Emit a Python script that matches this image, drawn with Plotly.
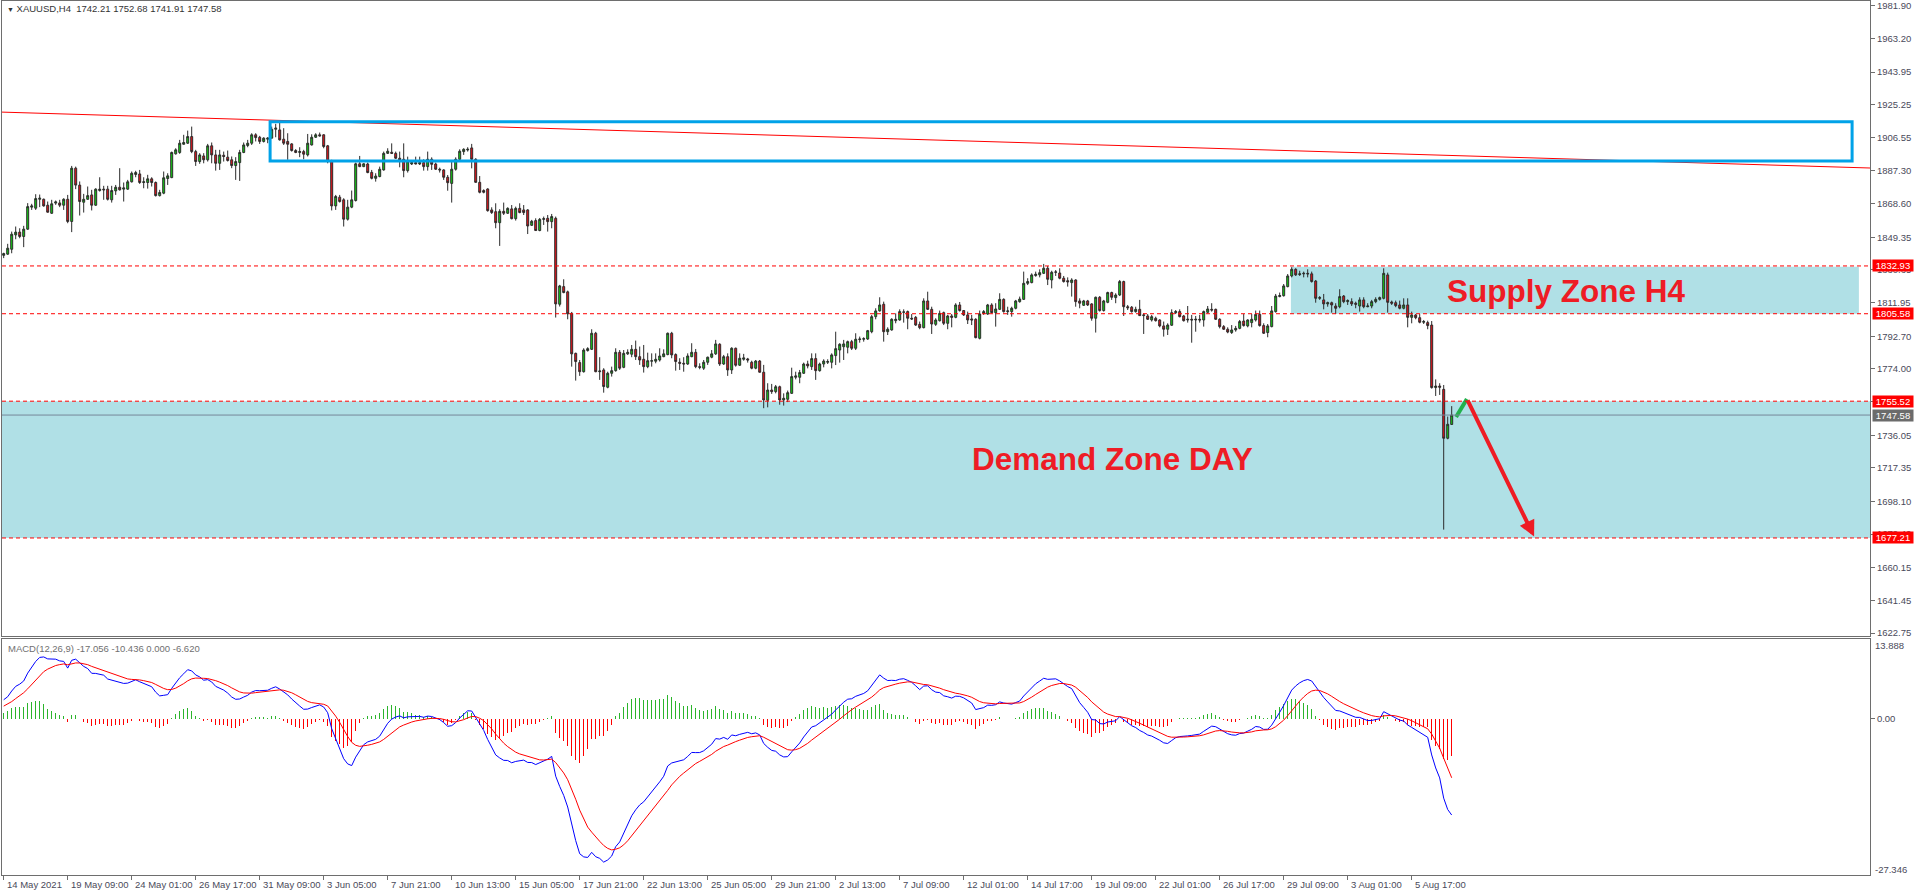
import plotly.graph_objects as go

# ---------------- data ----------------
date_labels = ["14 May 2021", "19 May 09:00", "24 May 01:00", "26 May 17:00", "31 May 09:00",
               "3 Jun 05:00", "7 Jun 21:00", "10 Jun 13:00", "15 Jun 05:00", "17 Jun 21:00",
               "22 Jun 13:00", "25 Jun 05:00", "29 Jun 21:00", "2 Jul 13:00", "7 Jul 09:00",
               "12 Jul 01:00", "14 Jul 17:00", "19 Jul 09:00", "22 Jul 01:00", "26 Jul 17:00",
               "29 Jul 09:00", "3 Aug 01:00", "5 Aug 17:00"]
label_step = 16

open_ = [
    1839.0, 1839.7, 1842.5, 1850.7, 1852.3, 1849.8, 1854.0, 1866.6, 1866.0, 1871.1,
    1871.1, 1867.7, 1863.1, 1868.9, 1869.0, 1867.7, 1871.1, 1858.4, 1888.9, 1879.2,
    1869.4, 1871.1, 1873.6, 1867.7, 1876.1, 1876.9, 1876.9, 1870.8, 1875.9, 1878.0,
    1876.9, 1876.9, 1881.1, 1885.3, 1885.6, 1880.7, 1880.7, 1882.8, 1880.7, 1873.2,
    1874.6, 1883.0, 1883.5, 1897.1, 1897.9, 1902.6, 1903.2, 1907.0, 1898.4, 1892.7,
    1895.9, 1893.7, 1901.7, 1896.5, 1891.7, 1896.3, 1895.2, 1893.7, 1890.4, 1892.1,
    1897.9, 1901.9, 1903.2, 1908.0, 1906.6, 1904.2, 1905.5, 1906.1, 1911.2, 1910.8,
    1905.5, 1904.2, 1902.8, 1899.0, 1897.9, 1898.4, 1896.5, 1902.2, 1906.6, 1908.0,
    1908.0, 1901.7, 1893.1, 1867.3, 1872.3, 1870.8, 1859.7, 1866.6, 1870.4, 1891.4,
    1889.8, 1891.3, 1886.5, 1883.1, 1884.1, 1887.9, 1897.4, 1898.0, 1897.4, 1894.6,
    1894.0, 1887.5, 1891.3, 1892.1, 1891.3, 1892.1, 1889.8, 1894.0, 1891.3, 1888.3,
    1887.9, 1883.7, 1880.2, 1888.3, 1894.0, 1898.4, 1899.3, 1900.5, 1894.0, 1880.8,
    1876.1, 1877.0, 1865.0, 1864.0, 1857.7, 1864.2, 1863.1, 1865.6, 1860.0, 1865.9,
    1865.0, 1865.0, 1856.2, 1858.9, 1853.2, 1859.6, 1860.2, 1858.3, 1860.2, 1811.0,
    1821.1, 1818.1, 1805.8, 1782.9, 1777.6, 1772.4, 1784.5, 1785.2, 1794.4, 1772.4,
    1773.4, 1763.5, 1771.5, 1773.0, 1783.5, 1774.9, 1782.6, 1782.4, 1785.2, 1781.0,
    1779.5, 1775.3, 1778.4, 1778.4, 1779.1, 1781.0, 1782.2, 1794.4, 1782.2, 1777.8,
    1777.2, 1776.8, 1781.0, 1783.5, 1775.3, 1774.4, 1777.8, 1780.7, 1782.6, 1788.1,
    1776.8, 1781.0, 1773.4, 1785.8, 1776.1, 1779.5, 1779.7, 1777.8, 1774.4, 1778.5,
    1772.1, 1756.0, 1761.9, 1761.0, 1763.8, 1756.2, 1756.6, 1760.0, 1769.2, 1769.2,
    1771.5, 1776.8, 1775.3, 1779.9, 1773.0, 1776.8, 1777.8, 1777.8, 1781.6, 1784.8,
    1786.7, 1786.4, 1789.6, 1785.8, 1790.8, 1791.0, 1791.1, 1795.3, 1803.9, 1807.2,
    1811.0, 1795.3, 1796.3, 1801.6, 1802.0, 1806.4, 1806.8, 1803.0, 1803.5, 1799.5,
    1797.6, 1812.9, 1808.1, 1799.5, 1801.6, 1806.2, 1800.1, 1804.3, 1803.5, 1810.6,
    1807.4, 1804.9, 1802.6, 1802.4, 1791.5, 1805.8, 1805.4, 1810.6, 1806.2, 1808.1,
    1813.8, 1806.8, 1806.8, 1808.7, 1812.5, 1813.8, 1823.0, 1823.4, 1827.4, 1827.8,
    1828.7, 1831.6, 1824.9, 1829.3, 1828.9, 1825.9, 1824.5, 1823.4, 1824.9, 1812.9,
    1810.4, 1812.9, 1811.2, 1803.0, 1815.0, 1807.4, 1812.1, 1817.7, 1814.8, 1816.3,
    1824.0, 1809.6, 1809.3, 1806.8, 1808.1, 1804.5, 1804.3, 1802.0, 1803.0, 1802.0,
    1798.6, 1796.7, 1799.0, 1806.2, 1806.8, 1804.3, 1802.0, 1802.4, 1802.0, 1802.4,
    1802.0, 1806.4, 1808.1, 1808.1, 1802.4, 1798.2, 1796.7, 1794.8, 1796.3, 1797.2,
    1801.4, 1798.6, 1800.5, 1802.0, 1805.2, 1798.8, 1794.8, 1798.2, 1806.8, 1815.4,
    1815.9, 1821.1, 1827.2, 1831.0, 1828.0, 1828.4, 1828.7, 1828.4, 1824.3, 1814.4,
    1813.5, 1811.2, 1811.9, 1810.0, 1809.6, 1815.7, 1812.5, 1812.5, 1811.6, 1810.0,
    1813.5, 1809.6, 1810.0, 1812.5, 1813.8, 1814.4, 1827.8, 1812.3, 1811.9, 1810.6,
    1808.7, 1810.6, 1803.5, 1804.9, 1803.3, 1800.7, 1800.5, 1799.1, 1763.3, 1764.2,
    1762.3, 1734.3, 1742.21]

high_ = [
    1840.5, 1845.6, 1852.6, 1855.5, 1854.5, 1855.9, 1868.9, 1868.5, 1874.0, 1873.8,
    1871.5, 1869.8, 1870.8, 1870.4, 1870.8, 1871.7, 1873.6, 1890.2, 1889.8, 1881.3,
    1874.2, 1878.4, 1876.5, 1877.4, 1883.7, 1878.8, 1878.8, 1878.8, 1879.3, 1888.9,
    1880.7, 1882.2, 1887.0, 1887.4, 1887.9, 1883.7, 1885.1, 1883.7, 1881.3, 1876.5,
    1887.0, 1886.0, 1898.4, 1900.3, 1905.1, 1908.0, 1910.4, 1912.7, 1899.4, 1897.5,
    1897.5, 1902.8, 1903.6, 1899.4, 1899.4, 1898.4, 1899.0, 1895.6, 1895.2, 1899.4,
    1903.6, 1905.1, 1908.9, 1908.9, 1907.4, 1906.6, 1906.6, 1912.7, 1914.3, 1915.0,
    1911.8, 1908.9, 1903.2, 1899.8, 1900.9, 1899.4, 1908.5, 1908.3, 1908.9, 1909.3,
    1908.3, 1902.2, 1893.7, 1873.6, 1873.6, 1871.7, 1870.8, 1876.1, 1892.1, 1895.9,
    1891.7, 1892.1, 1887.9, 1886.0, 1889.8, 1898.4, 1900.3, 1903.1, 1898.4, 1898.4,
    1903.1, 1895.5, 1893.6, 1895.5, 1895.5, 1894.0, 1898.4, 1895.1, 1892.1, 1889.2,
    1888.3, 1885.0, 1892.6, 1895.1, 1899.7, 1900.3, 1900.9, 1902.8, 1894.6, 1884.4,
    1876.8, 1877.4, 1866.5, 1868.8, 1865.4, 1869.2, 1866.5, 1867.8, 1866.9, 1868.8,
    1867.8, 1865.4, 1859.3, 1860.2, 1860.4, 1861.2, 1862.1, 1862.7, 1861.2, 1822.1,
    1825.3, 1818.8, 1806.6, 1783.3, 1779.1, 1785.8, 1786.4, 1796.7, 1795.2, 1780.7,
    1774.4, 1772.4, 1775.3, 1785.8, 1784.8, 1784.8, 1785.2, 1787.7, 1790.2, 1786.8,
    1787.7, 1783.3, 1782.9, 1782.9, 1785.8, 1785.2, 1794.8, 1795.2, 1782.9, 1780.1,
    1780.7, 1782.9, 1788.7, 1785.4, 1777.2, 1779.1, 1781.0, 1784.8, 1790.6, 1788.7,
    1782.0, 1782.9, 1786.4, 1786.2, 1782.9, 1782.6, 1780.3, 1778.7, 1779.1, 1779.1,
    1776.3, 1765.8, 1765.4, 1764.8, 1764.4, 1760.0, 1761.6, 1774.7, 1772.4, 1773.4,
    1777.6, 1778.7, 1782.9, 1782.9, 1777.6, 1779.5, 1779.5, 1782.9, 1795.3, 1788.7,
    1790.6, 1790.2, 1790.6, 1794.4, 1792.5, 1792.1, 1796.3, 1804.9, 1808.7, 1815.0,
    1812.5, 1797.8, 1803.0, 1805.8, 1808.1, 1808.1, 1807.4, 1805.4, 1804.3, 1801.1,
    1814.4, 1818.2, 1809.6, 1803.0, 1807.4, 1806.8, 1804.9, 1805.4, 1811.6, 1812.3,
    1807.7, 1806.8, 1804.9, 1803.0, 1807.4, 1807.7, 1811.2, 1811.6, 1811.6, 1817.3,
    1814.4, 1809.6, 1809.6, 1813.5, 1815.4, 1829.7, 1825.9, 1828.7, 1829.7, 1831.0,
    1834.1, 1832.9, 1830.2, 1830.6, 1831.6, 1827.2, 1826.4, 1825.9, 1825.3, 1814.4,
    1813.5, 1813.5, 1811.6, 1815.4, 1815.7, 1813.5, 1818.2, 1818.2, 1817.3, 1824.9,
    1824.5, 1810.6, 1810.0, 1809.6, 1813.5, 1805.8, 1805.4, 1804.9, 1803.9, 1802.4,
    1801.1, 1800.1, 1808.1, 1807.7, 1808.1, 1804.9, 1810.0, 1804.9, 1804.3, 1804.9,
    1807.4, 1810.0, 1811.6, 1808.5, 1803.0, 1799.1, 1797.8, 1799.1, 1798.6, 1802.0,
    1805.4, 1802.4, 1805.4, 1807.4, 1807.4, 1800.1, 1799.7, 1810.0, 1816.9, 1817.7,
    1822.6, 1828.3, 1832.2, 1831.6, 1830.2, 1829.7, 1831.0, 1829.7, 1824.9, 1815.7,
    1816.9, 1812.5, 1812.5, 1811.6, 1819.6, 1816.3, 1813.8, 1814.4, 1812.5, 1815.0,
    1815.0, 1811.6, 1813.5, 1815.0, 1815.4, 1831.6, 1829.1, 1813.1, 1813.1, 1813.1,
    1814.4, 1814.4, 1806.8, 1805.4, 1805.4, 1802.0, 1801.6, 1801.4, 1768.0, 1765.8,
    1764.8, 1746.7, 1752.68]

low_ = [
    1837.4, 1839.3, 1840.2, 1848.2, 1848.8, 1843.7, 1853.6, 1865.0, 1865.0, 1866.6,
    1866.9, 1863.5, 1862.7, 1867.9, 1866.6, 1865.0, 1857.4, 1852.3, 1876.9, 1861.8,
    1863.5, 1870.8, 1864.7, 1867.3, 1875.5, 1870.8, 1870.4, 1869.2, 1873.6, 1876.1,
    1869.8, 1876.5, 1880.7, 1883.7, 1879.9, 1877.4, 1877.2, 1878.4, 1872.7, 1872.7,
    1874.0, 1879.3, 1883.2, 1896.7, 1897.1, 1902.4, 1902.8, 1897.5, 1890.2, 1891.4,
    1891.7, 1892.7, 1891.7, 1887.5, 1887.9, 1892.7, 1892.7, 1888.9, 1882.2, 1881.6,
    1897.5, 1900.9, 1902.2, 1904.2, 1902.8, 1903.6, 1903.2, 1905.9, 1906.6, 1904.7,
    1902.2, 1893.7, 1898.4, 1897.5, 1895.2, 1894.0, 1895.6, 1901.9, 1906.2, 1907.0,
    1900.3, 1891.7, 1864.7, 1865.0, 1869.2, 1855.5, 1858.9, 1866.0, 1869.8, 1889.5,
    1889.5, 1886.0, 1882.5, 1881.2, 1883.7, 1887.5, 1897.0, 1897.0, 1894.2, 1889.4,
    1883.7, 1886.4, 1890.7, 1891.1, 1890.7, 1887.5, 1887.5, 1887.9, 1887.9, 1886.4,
    1882.2, 1876.0, 1869.2, 1887.5, 1893.6, 1896.5, 1898.4, 1888.8, 1880.6, 1874.5,
    1874.5, 1864.0, 1862.7, 1854.5, 1844.4, 1862.1, 1862.7, 1859.6, 1858.9, 1863.1,
    1862.1, 1851.2, 1855.8, 1853.0, 1852.8, 1856.4, 1852.6, 1854.5, 1803.4, 1809.7,
    1817.3, 1802.4, 1775.3, 1767.3, 1770.0, 1771.9, 1783.9, 1784.8, 1772.1, 1767.7,
    1760.4, 1762.9, 1769.6, 1772.4, 1773.4, 1774.4, 1782.0, 1780.7, 1779.1, 1776.3,
    1771.9, 1774.4, 1775.3, 1777.2, 1778.2, 1780.7, 1781.8, 1780.1, 1773.0, 1773.4,
    1772.4, 1776.3, 1780.7, 1774.4, 1773.8, 1773.4, 1776.3, 1780.1, 1782.0, 1775.7,
    1776.3, 1770.0, 1771.1, 1775.3, 1775.7, 1778.7, 1777.6, 1773.8, 1773.8, 1771.9,
    1751.5, 1752.0, 1759.7, 1760.0, 1753.5, 1753.0, 1755.0, 1759.7, 1768.0, 1765.8,
    1771.1, 1774.3, 1773.4, 1767.7, 1772.4, 1774.9, 1776.8, 1774.3, 1776.2, 1777.6,
    1779.1, 1782.9, 1784.8, 1784.8, 1789.0, 1789.6, 1790.6, 1794.4, 1802.4, 1806.8,
    1789.6, 1793.4, 1795.9, 1800.1, 1801.6, 1800.5, 1796.7, 1802.0, 1798.6, 1796.7,
    1797.2, 1807.7, 1794.0, 1798.6, 1801.1, 1799.1, 1796.7, 1797.8, 1803.0, 1806.8,
    1804.3, 1799.7, 1799.1, 1791.5, 1790.9, 1804.9, 1804.9, 1805.8, 1798.2, 1807.7,
    1806.2, 1804.9, 1803.9, 1808.1, 1811.9, 1813.5, 1822.0, 1823.0, 1826.8, 1826.4,
    1828.3, 1822.0, 1820.1, 1827.2, 1825.3, 1823.4, 1821.1, 1815.4, 1809.6, 1808.7,
    1810.0, 1810.0, 1801.6, 1794.8, 1806.8, 1806.8, 1811.6, 1813.5, 1811.6, 1815.7,
    1804.3, 1807.7, 1806.2, 1806.2, 1804.3, 1794.0, 1802.0, 1801.1, 1801.1, 1797.8,
    1792.5, 1793.4, 1798.6, 1805.4, 1803.5, 1801.1, 1800.5, 1789.0, 1795.3, 1800.5,
    1798.2, 1805.8, 1806.8, 1802.0, 1797.2, 1796.3, 1794.4, 1794.0, 1795.3, 1796.7,
    1798.2, 1797.8, 1797.8, 1801.1, 1798.2, 1794.0, 1792.1, 1797.8, 1806.2, 1815.0,
    1815.4, 1820.7, 1826.4, 1827.2, 1827.2, 1826.4, 1826.4, 1823.4, 1811.9, 1813.5,
    1808.1, 1809.6, 1806.2, 1805.4, 1808.7, 1811.6, 1810.6, 1810.0, 1808.7, 1806.8,
    1808.7, 1809.3, 1808.7, 1811.6, 1813.1, 1813.8, 1806.2, 1810.6, 1809.3, 1808.1,
    1808.1, 1797.8, 1800.1, 1802.4, 1800.1, 1799.7, 1796.7, 1762.7, 1758.5, 1759.1,
    1682.0, 1733.7, 1741.91]

close_ = [
    1840.0, 1843.1, 1851.1, 1852.3, 1849.8, 1854.0, 1866.9, 1867.3, 1871.5, 1871.7,
    1867.3, 1863.7, 1868.5, 1869.6, 1867.7, 1871.1, 1858.4, 1888.9, 1879.2, 1869.8,
    1871.1, 1873.2, 1867.7, 1876.9, 1876.9, 1876.5, 1871.1, 1876.1, 1878.0, 1876.5,
    1877.6, 1881.1, 1886.0, 1886.4, 1880.7, 1881.1, 1882.8, 1880.7, 1873.2, 1875.0,
    1883.4, 1884.5, 1897.9, 1899.4, 1903.2, 1903.6, 1907.0, 1898.4, 1892.7, 1896.5,
    1893.7, 1901.7, 1896.5, 1891.7, 1896.5, 1895.6, 1893.3, 1890.4, 1892.7, 1897.9,
    1902.2, 1903.2, 1908.0, 1906.4, 1904.2, 1906.1, 1906.1, 1911.2, 1911.8, 1905.1,
    1903.2, 1902.6, 1899.0, 1897.9, 1898.4, 1896.9, 1903.2, 1906.6, 1908.0, 1907.4,
    1901.3, 1892.7, 1867.3, 1872.7, 1869.8, 1859.7, 1866.6, 1870.8, 1891.4, 1889.8,
    1891.4, 1886.4, 1883.1, 1884.4, 1888.3, 1897.4, 1898.6, 1897.4, 1894.6, 1893.6,
    1887.5, 1893.0, 1892.1, 1891.3, 1892.1, 1889.8, 1894.0, 1891.1, 1888.3, 1887.9,
    1883.7, 1880.6, 1888.3, 1894.0, 1898.6, 1899.7, 1899.7, 1894.0, 1880.8, 1875.1,
    1875.1, 1864.6, 1863.5, 1857.7, 1864.2, 1863.1, 1865.9, 1860.0, 1865.9, 1863.5,
    1863.5, 1855.8, 1858.5, 1853.2, 1859.6, 1860.0, 1858.3, 1861.2, 1811.2, 1821.5,
    1817.7, 1805.5, 1782.6, 1778.2, 1772.4, 1784.8, 1785.6, 1794.4, 1772.4, 1772.8,
    1763.9, 1771.5, 1773.0, 1783.5, 1774.4, 1782.9, 1783.5, 1785.2, 1781.0, 1779.1,
    1775.3, 1778.7, 1778.7, 1779.5, 1781.4, 1782.6, 1794.4, 1782.0, 1778.2, 1777.2,
    1776.8, 1781.4, 1783.5, 1775.3, 1774.9, 1777.8, 1780.7, 1782.6, 1788.3, 1776.8,
    1781.0, 1773.4, 1785.8, 1776.1, 1780.1, 1780.3, 1779.1, 1774.4, 1778.5, 1772.1,
    1756.2, 1761.9, 1761.0, 1763.8, 1756.2, 1757.2, 1760.4, 1769.6, 1770.0, 1771.9,
    1776.8, 1775.7, 1779.9, 1773.0, 1776.8, 1778.5, 1778.2, 1782.0, 1785.6, 1788.1,
    1788.3, 1789.6, 1785.8, 1791.0, 1791.1, 1791.3, 1795.9, 1803.9, 1807.2, 1810.6,
    1795.3, 1796.7, 1802.4, 1802.4, 1806.8, 1806.6, 1803.0, 1802.6, 1799.1, 1797.6,
    1812.9, 1808.1, 1799.7, 1802.0, 1805.8, 1800.1, 1804.3, 1803.5, 1810.6, 1807.4,
    1804.9, 1802.0, 1802.0, 1791.9, 1805.4, 1806.8, 1810.6, 1806.2, 1808.3, 1813.8,
    1806.8, 1807.2, 1808.7, 1812.9, 1814.0, 1823.0, 1824.0, 1827.8, 1828.2, 1829.1,
    1831.6, 1825.3, 1829.3, 1829.5, 1825.9, 1824.0, 1823.8, 1824.9, 1812.5, 1811.6,
    1812.9, 1810.6, 1803.0, 1815.0, 1807.4, 1812.9, 1817.7, 1815.0, 1816.3, 1824.0,
    1809.6, 1809.0, 1806.8, 1808.1, 1804.5, 1804.9, 1802.4, 1803.9, 1801.6, 1798.6,
    1796.7, 1799.1, 1806.2, 1806.8, 1803.9, 1801.6, 1802.4, 1802.0, 1802.4, 1802.0,
    1806.8, 1808.3, 1807.7, 1802.4, 1798.2, 1796.7, 1795.1, 1796.3, 1797.2, 1801.1,
    1798.8, 1802.0, 1802.4, 1805.2, 1798.8, 1794.4, 1798.6, 1807.2, 1815.7, 1816.0,
    1821.5, 1827.2, 1831.0, 1827.8, 1828.4, 1828.7, 1828.4, 1824.0, 1814.4, 1814.8,
    1811.2, 1811.9, 1810.6, 1808.7, 1815.4, 1812.5, 1813.1, 1811.2, 1811.0, 1813.5,
    1809.6, 1810.0, 1812.5, 1813.8, 1814.8, 1828.7, 1812.1, 1811.6, 1810.2, 1808.7,
    1810.6, 1803.5, 1804.9, 1803.3, 1800.7, 1801.1, 1798.8, 1763.3, 1764.2, 1763.5,
    1734.3, 1742.3, 1747.58]

# price-axis tick values (MT4 grid)
price_ticks = [1981.90, 1963.20, 1943.95, 1925.25, 1906.55, 1887.30, 1868.60, 1849.35,
               1830.65, 1811.95, 1792.70, 1774.00, 1755.30, 1736.05, 1717.35, 1698.10,
               1679.40, 1660.15, 1641.45, 1622.75]
level_prices = [1832.93, 1805.58, 1755.52, 1677.21]
bid_price = 1747.58
macd_max_label, macd_min_label = 13.888, -27.346

# drawn objects (in bar-index / price units)
trend_x = [-0.5, 466.6]
trend_price = [1921.0, 1889.0]
blue_box_x = [66.6, 462.1]
blue_box_price = [1893.0, 1915.5]
supply_zone_x = [321.8, 463.8]
supply_zone_price = [1805.58, 1832.5]
demand_zone_price = [1677.21, 1755.52]
green_leg_x = [363.1, 365.8]
green_leg_price = [1746.5, 1756.8]
red_leg_x = [365.8, 382.6]
red_leg_price = [1756.8, 1678.0]

# MACD seeds (state of the EMAs before the first visible bar)
EMA_FAST_SEED = 1832.0
EMA_SLOW_SEED = 1829.0
SIGNAL_SEED = 2.0

n = len(close_)
idx = list(range(n))


def ema(vals, period, seed):
    k = 2.0 / (period + 1)
    out, prev = [], seed
    for v in vals:
        prev = prev + k * (v - prev)
        out.append(prev)
    return out


ema_fast = ema(close_, 12, EMA_FAST_SEED)
ema_slow = ema(close_, 26, EMA_SLOW_SEED)
macd = [a - b for a, b in zip(ema_fast, ema_slow)]
signal = ema(macd, 9, SIGNAL_SEED)
hist = [m - s for m, s in zip(macd, signal)]

# ---------------- figure ----------------
W, H = 1916, 896
ML, MR, MT, MB = 2, 46, 1, 21
PH = H - MT - MB  # plot height in px


def py(pix):  # pixel y -> paper y
    return (H - MB - pix) / PH


GREEN = "#14D014"
RED = "#E8141B"
OUTL = "#2B2B2B"
AXC = "#6E6E6E"
TXT = "#4A4A5A"
FONT = "Liberation Sans"

fig = go.Figure()

fig.add_trace(go.Candlestick(
    x=idx, open=open_, high=high_, low=low_, close=close_,
    increasing=dict(line=dict(color=OUTL, width=1), fillcolor=GREEN),
    decreasing=dict(line=dict(color=OUTL, width=1), fillcolor=RED),
    whiskerwidth=0, xaxis="x", yaxis="y", hoverinfo="skip", showlegend=False))

# trend line
fig.add_trace(go.Scatter(x=trend_x, y=trend_price, mode="lines",
                         line=dict(color="#FF0000", width=1), xaxis="x", yaxis="y",
                         hoverinfo="skip", showlegend=False))
# green up-leg
fig.add_trace(go.Scatter(x=green_leg_x, y=green_leg_price, mode="lines",
                         line=dict(color="#22B14C", width=4), xaxis="x", yaxis="y",
                         hoverinfo="skip", showlegend=False))

# MACD histogram and lines
fig.add_trace(go.Bar(x=idx, y=hist, width=0.3,
                     marker=dict(color=["#2CB52C" if h >= 0 else "#FF0000" for h in hist],
                                 line=dict(width=0)),
                     xaxis="x2", yaxis="y2", hoverinfo="skip", showlegend=False))
fig.add_trace(go.Scatter(x=idx, y=macd, mode="lines", line=dict(color="#0000FF", width=1),
                         xaxis="x2", yaxis="y2", hoverinfo="skip", showlegend=False))
fig.add_trace(go.Scatter(x=idx, y=signal, mode="lines", line=dict(color="#FF0000", width=1),
                         xaxis="x2", yaxis="y2", hoverinfo="skip", showlegend=False))

shapes = []
# demand zone (full width)
shapes.append(dict(type="rect", xref="paper", yref="y", x0=0, x1=1,
                   y0=demand_zone_price[0], y1=demand_zone_price[1],
                   fillcolor="#B0E0E6", line=dict(width=0), layer="below"))
# supply zone
shapes.append(dict(type="rect", xref="x", yref="y", x0=supply_zone_x[0], x1=supply_zone_x[1],
                   y0=supply_zone_price[0], y1=supply_zone_price[1],
                   fillcolor="#B0E0E6", line=dict(width=0), layer="below"))
# blue outlined box
shapes.append(dict(type="rect", xref="x", yref="y", x0=blue_box_x[0], x1=blue_box_x[1],
                   y0=blue_box_price[0], y1=blue_box_price[1],
                   fillcolor="rgba(0,0,0,0)", line=dict(color="#00A2E8", width=3), layer="above"))
# dashed levels
for p in level_prices:
    shapes.append(dict(type="line", xref="paper", yref="y", x0=0, x1=1, y0=p, y1=p,
                       line=dict(color="#FF0000", width=1, dash="4px,3px"), layer="above"))
# bid line
shapes.append(dict(type="line", xref="paper", yref="y", x0=0, x1=1, y0=bid_price, y1=bid_price,
                   line=dict(color="#778899", width=1), layer="above"))

annotations = []
# red arrow
annotations.append(dict(x=red_leg_x[1], y=red_leg_price[1], ax=red_leg_x[0], ay=red_leg_price[0],
                        xref="x", yref="y", axref="x", ayref="y", text="", showarrow=True,
                        arrowhead=2, arrowsize=0.8, arrowwidth=4, arrowcolor="#EE1C24"))
# zone texts
annotations.append(dict(x=277.1, y=1722.4, xref="x", yref="y", text="Demand Zone DAY",
                        showarrow=False, font=dict(family=FONT, size=31.5, color="#EE1C25",
                                                   weight="bold")))
annotations.append(dict(x=390.8, y=1818.6, xref="x", yref="y", text="Supply Zone H4",
                        showarrow=False, font=dict(family=FONT, size=31.5, color="#EE1C25",
                                                   weight="bold")))
# header
annotations.append(dict(x=(5 - ML) / (W - ML - MR), y=py(9), xref="paper", yref="paper",
                        xanchor="left", yanchor="middle", showarrow=False,
                        text='<span style="font-size:7px">\u25BC</span> XAUUSD,H4\u00a0\u00a01742.21 1752.68 1741.91 1747.58',
                        font=dict(family=FONT, size=9.5, color="#333333")))
annotations.append(dict(x=(6 - ML) / (W - ML - MR), y=py(648), xref="paper", yref="paper",
                        xanchor="left", yanchor="middle", showarrow=False,
                        text="MACD(12,26,9) -17.056 -10.436 0.000 -6.620",
                        font=dict(family=FONT, size=9.5, color="#707070")))
# price labels on axis
xlab = 1 + 2 / (W - ML - MR)
for p in level_prices:
    annotations.append(dict(x=xlab, y=p, xref="paper", yref="y", xanchor="left",
                            yanchor="middle", showarrow=False, text=f"{p:.2f}",
                            bgcolor="#FF0000", width=40, height=11, borderpad=0,
                            font=dict(family=FONT, size=9.5, color="white")))
annotations.append(dict(x=xlab, y=bid_price, xref="paper", yref="y", xanchor="left",
                        yanchor="middle", showarrow=False, text=f"{bid_price:.2f}",
                        bgcolor="#6B6B6B", width=40, height=11, borderpad=0,
                        font=dict(family=FONT, size=9.5, color="white")))
# MACD extreme labels
annotations.append(dict(x=1 + 3 / (W - ML - MR), y=py(645), xref="paper", yref="paper",
                        xanchor="left", yanchor="middle", showarrow=False,
                        text=f"{macd_max_label:.3f}", font=dict(family=FONT, size=9.5, color=TXT)))
annotations.append(dict(x=1 + 3 / (W - ML - MR), y=py(869), xref="paper", yref="paper",
                        xanchor="left", yanchor="middle", showarrow=False,
                        text=f"{macd_min_label:.3f}", font=dict(family=FONT, size=9.5, color=TXT)))
# date labels (left-aligned at tick)
tick_idx = [i * label_step for i in range(len(date_labels))]
for ti, lab in zip(tick_idx, date_labels):
    annotations.append(dict(x=ti + 0.2, y=py(884), xref="x", yref="paper", xanchor="left",
                            yanchor="middle", showarrow=False, text=lab,
                            font=dict(family=FONT, size=9.5, color=TXT)))

x_range = [(ML - 3.7) / 4.0, (W - MR - 3.7) / 4.0]
main_bottom = py(636)
macd_top = py(639)

fig.update_layout(
    width=W, height=H, margin=dict(l=ML, r=MR, t=MT, b=MB, autoexpand=False),
    paper_bgcolor="white", plot_bgcolor="white", showlegend=False,
    bargap=0, barmode="overlay", hovermode=False, dragmode=False,
    shapes=shapes, annotations=annotations,
    xaxis=dict(domain=[0, 1], anchor="y", range=x_range, showgrid=False, zeroline=False,
               showticklabels=False, ticks="", showline=True, mirror=True, linecolor=AXC,
               linewidth=1, rangeslider=dict(visible=False), fixedrange=True, automargin=False),
    yaxis=dict(domain=[main_bottom, 1], anchor="x", range=[1621.1, 1984.6], side="right",
               tickvals=price_ticks, ticktext=[f"{v:.2f}" for v in price_ticks],
               ticks="outside", ticklen=4, tickcolor=AXC, showgrid=False, zeroline=False,
               showline=True, mirror=True, linecolor=AXC, linewidth=1, automargin=False,
               tickfont=dict(family=FONT, size=9.5, color=TXT)),
    xaxis2=dict(domain=[0, 1], anchor="y2", matches="x", range=x_range, showgrid=False,
                zeroline=False, tickvals=tick_idx, ticks="outside", ticklen=4, tickcolor=AXC,
                showticklabels=False, showline=True, mirror=True, linecolor=AXC, linewidth=1,
                automargin=False),
    yaxis2=dict(domain=[0, macd_top], anchor="x2", range=[-27.7, 14.2], side="right",
                tickvals=[0], ticktext=["0.00"], ticks="outside", ticklen=4, tickcolor=AXC,
                showgrid=False, zeroline=False, showline=True, mirror=True, linecolor=AXC,
                linewidth=1, automargin=False, tickfont=dict(family=FONT, size=9.5, color=TXT)),
)

fig.write_html("out.html", config={"displayModeBar": False, "staticPlot": True},
               post_script="document.body.style.margin='0';document.body.style.overflow='hidden';")
